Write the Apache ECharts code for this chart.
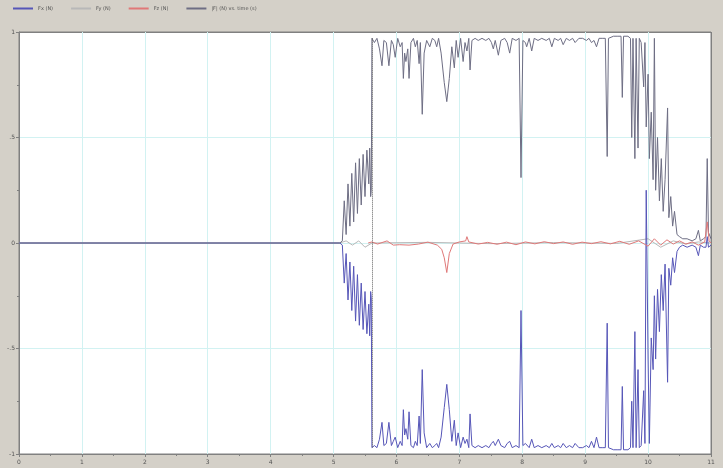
<!DOCTYPE html>
<html>
<head>
<meta charset="utf-8">
<script src="https://cdn.jsdelivr.net/npm/echarts@6/dist/echarts.min.js"></script>
<style>
html,body{margin:0;padding:0;background:#d4d0c8;}
#c{width:723px;height:468px;}
</style>
</head>
<body>
<div id="c"></div>
<script>
// ---- data (time in s, force in N) ----
var seriesNames = ['Fx (N)', 'Fy (N)', 'Fz (N)', '|F| (N) vs. time (s)'];
var xTicks = [0,1,2,3,4,5,6,7,8,9,10,11];

var time = [
 0, 5.10, 5.14, 5.17, 5.20, 5.23, 5.26, 5.29, 5.32, 5.35,
 5.38, 5.41, 5.44, 5.47, 5.50, 5.53, 5.56, 5.575, 5.59, 5.60,
 5.61, 5.65, 5.69, 5.73, 5.77, 5.80, 5.84, 5.88, 5.92, 5.95,
 5.98, 6.02, 6.06, 6.09, 6.11, 6.13, 6.15, 6.18, 6.20, 6.23,
 6.27, 6.30, 6.33, 6.36, 6.38, 6.41, 6.44, 6.48, 6.53, 6.57,
 6.61, 6.64, 6.67, 6.71, 6.76, 6.80, 6.84, 6.88, 6.92, 6.95,
 6.98, 7.02, 7.06, 7.09, 7.12, 7.15, 7.17, 7.20, 7.25, 7.30,
 7.36, 7.42, 7.47, 7.51, 7.54, 7.57, 7.62, 7.66, 7.72, 7.76,
 7.80, 7.84, 7.90, 7.95, 7.98, 8.01, 8.05, 8.07, 8.11, 8.15,
 8.19, 8.25, 8.31, 8.38, 8.43, 8.47, 8.51, 8.57, 8.61, 8.65,
 8.70, 8.75, 8.80, 8.84, 8.90, 8.96, 9.02, 9.06, 9.10, 9.14,
 9.18, 9.22, 9.27, 9.32, 9.35, 9.37, 9.45, 9.52, 9.57, 9.59,
 9.61, 9.68, 9.72, 9.74, 9.76, 9.79, 9.81, 9.84, 9.86, 9.89,
 9.93, 9.95, 9.97, 10.00, 10.02, 10.05, 10.08, 10.10, 10.12, 10.15,
 10.18, 10.21, 10.24, 10.27, 10.31, 10.33, 10.36, 10.39, 10.42, 10.46,
 10.50, 10.55, 10.62, 10.70, 10.76, 10.80, 10.83, 10.88, 10.92, 10.94,
 10.96, 11.00
];

var fmag = [
 0, 0, 0.01, 0.20, 0.04, 0.28, 0.08, 0.33, 0.10, 0.38,
 0.14, 0.40, 0.18, 0.42, 0.22, 0.44, 0.28, 0.45, 0.22, 0.25,
 0.97, 0.95, 0.97, 0.92, 0.84, 0.96, 0.95, 0.84, 0.96, 0.94,
 0.88, 0.97, 0.93, 0.95, 0.78, 0.90, 0.86, 0.92, 0.78, 0.95,
 0.97, 0.93, 0.96, 0.85, 0.95, 0.61, 0.90, 0.96, 0.93, 0.97,
 0.96, 0.93, 0.97, 0.90, 0.76, 0.67, 0.78, 0.93, 0.83, 0.96,
 0.88, 0.97, 0.86, 0.95, 0.91, 0.97, 0.82, 0.96, 0.97, 0.96,
 0.97, 0.96, 0.97, 0.95, 0.92, 0.96, 0.89, 0.96, 0.97, 0.95,
 0.90, 0.97, 0.96, 0.97, 0.31, 0.96, 0.95, 0.93, 0.97, 0.91,
 0.97, 0.96, 0.97, 0.96, 0.97, 0.93, 0.97, 0.96, 0.97, 0.94,
 0.97, 0.96, 0.97, 0.95, 0.97, 0.97, 0.96, 0.97, 0.95, 0.96,
 0.93, 0.97, 0.97, 0.97, 0.41, 0.97, 0.98, 0.98, 0.98, 0.69,
 0.98, 0.98, 0.97, 0.50, 0.97, 0.40, 0.97, 0.45, 0.97, 0.95,
 0.74, 0.95, 0.55, 0.80, 0.40, 0.62, 0.30, 0.97, 0.25, 0.50,
 0.20, 0.40, 0.15, 0.30, 0.64, 0.12, 0.22, 0.08, 0.15, 0.04,
 0.03, 0.02, 0.02, 0.01, 0.02, 0.06, 0.01, 0.02, 0.03, 0.40,
 0.05, 0.02
];

var fx = [
 0, 0, -0.01, -0.19, -0.05, -0.27, -0.09, -0.32, -0.11, -0.37,
 -0.15, -0.39, -0.19, -0.41, -0.23, -0.43, -0.29, -0.44, -0.23, -0.26,
 -0.97, -0.96, -0.97, -0.93, -0.85, -0.96, -0.95, -0.85, -0.96, -0.94,
 -0.92, -0.97, -0.94, -0.96, -0.79, -0.91, -0.88, -0.93, -0.80, -0.96,
 -0.97, -0.94, -0.96, -0.82, -0.95, -0.60, -0.90, -0.97, -0.95, -0.97,
 -0.96, -0.95, -0.97, -0.92, -0.78, -0.67, -0.79, -0.94, -0.84, -0.96,
 -0.90, -0.97, -0.92, -0.95, -0.93, -0.97, -0.81, -0.96, -0.97, -0.96,
 -0.97, -0.96, -0.97, -0.95, -0.94, -0.96, -0.93, -0.96, -0.97, -0.95,
 -0.94, -0.97, -0.96, -0.97, -0.32, -0.96, -0.95, -0.95, -0.97, -0.93,
 -0.97, -0.96, -0.97, -0.96, -0.97, -0.95, -0.97, -0.96, -0.97, -0.95,
 -0.97, -0.96, -0.97, -0.95, -0.97, -0.97, -0.96, -0.97, -0.94, -0.97,
 -0.92, -0.97, -0.97, -0.97, -0.38, -0.97, -0.98, -0.98, -0.98, -0.68,
 -0.98, -0.98, -0.97, -0.75, -0.97, -0.42, -0.97, -0.60, -0.97, -0.96,
 -0.70, -0.95, 0.25, -0.55, -0.95, -0.45, -0.60, -0.25, -0.55, -0.22,
 -0.42, -0.15, -0.32, -0.10, -0.66, -0.12, -0.20, -0.07, -0.14, -0.04,
 -0.02, -0.01, -0.02, -0.01, -0.02, -0.06, -0.01, -0.02, -0.02, 0.03,
 -0.02, -0.01
];

var fyTime = [0, 5.10, 5.20, 5.30, 5.40, 5.50, 5.61, 6.5, 7.5, 8.5, 9.5, 10.0, 10.2, 10.4, 10.6, 10.8, 11.0];
var fy     = [0, 0, 0.01, -0.01, 0.01, -0.02, 0, 0.003, -0.003, 0.002, -0.002, 0.02, -0.02, 0.01, -0.005, 0.005, 0];

var fzTime = [
 5.55, 5.61, 5.70, 5.85, 5.95, 6.05, 6.20,
 6.35, 6.50, 6.65, 6.72, 6.76, 6.80, 6.84, 6.90, 7.00, 7.10,
 7.12, 7.15, 7.30, 7.45, 7.60, 7.75, 7.90, 8.05, 8.20, 8.35,
 8.50, 8.65, 8.80, 8.95, 9.10, 9.25, 9.40, 9.55, 9.70, 9.85,
 10.00, 10.10, 10.20, 10.30, 10.40, 10.50, 10.60, 10.70, 10.80, 10.90,
 10.94, 10.97, 11.00
];
var fz = [
 0, 0.005, -0.005, 0.01, -0.01, -0.008, -0.01,
 -0.005, 0.004, -0.01, -0.03, -0.07, -0.14, -0.05, -0.005, 0.005, 0.01,
 0.03, 0.005, -0.005, 0.003, -0.006, 0.004, -0.008, 0.005, -0.004, 0.006,
 -0.003, 0.005, -0.006, 0.004, -0.003, 0.006, -0.004, 0.008, -0.006, 0.01,
 -0.015, 0.02, -0.01, 0.015, -0.005, 0.01, -0.005, 0.005, -0.01, 0.005,
 0.10, 0.01, 0.0
];

var contactTime = 5.61;

function zip(t, v) {
  var out = [];
  for (var i = 0; i < Math.min(t.length, v.length); i++) out.push([t[i], v[i]]);
  return out;
}

var colors = ['#5656b8', '#b8b8b8', '#e07878', '#6e6e84'];

var chart = echarts.init(document.getElementById('c'), null, {renderer: 'canvas'});
var lblFont = {fontSize: 6, color: '#555', fontFamily: 'DejaVu Sans'};

function lineSeries(i, data, z) {
  return {
    name: seriesNames[i], type: 'line', showSymbol: false, symbol: 'none',
    itemStyle: {color: colors[i]},
    lineStyle: {width: 1, color: colors[i]}, data: data, z: z
  };
}

var sMag = lineSeries(3, zip(time, fmag), 3);
sMag.markLine = {
  silent: true, symbol: 'none', label: {show: false},
  lineStyle: {type: 'dotted', color: '#606060', width: 1},
  data: [[{coord: [contactTime, 0.97]}, {coord: [contactTime, -0.97]}]]
};

var gridGrey = '#808080', gridCyan = '#d2f2f2';
var xSplitColors = xTicks.map(function(v, i){ return (i === 0 || i === xTicks.length - 1) ? gridGrey : gridCyan; });
var ySplitColors = [gridGrey, gridCyan, gridCyan, gridCyan, gridGrey];

chart.setOption({
  animation: false,
  backgroundColor: '#d4d0c8',
  color: colors,
  legend: {
    left: 8, top: 1,
    itemWidth: 20, itemHeight: 2, itemGap: 18,
    icon: 'rect',
    textStyle: {fontSize: 5, color: '#555', fontFamily: 'DejaVu Sans'},
    data: seriesNames.map(function(n, i){ return {name: n, itemStyle: {color: colors[i]}}; })
  },
  grid: {
    left: 19, right: 12, top: 32, bottom: 14,
    show: true, backgroundColor: '#ffffff', borderColor: gridGrey, borderWidth: 1
  },
  xAxis: {
    type: 'value', min: 0, max: 11, interval: 1,
    axisLine: {show: true, onZero: false, lineStyle: {color: gridGrey}},
    axisTick: {show: true, length: 3, lineStyle: {color: gridGrey}},
    minorTick: {show: true, splitNumber: 2, length: 2, lineStyle: {color: gridGrey}},
    axisLabel: Object.assign({margin: 5, formatter: function(v){ return xTicks.indexOf(v) >= 0 ? String(v) : ''; }}, lblFont),
    splitLine: {show: true, lineStyle: {color: xSplitColors, width: 1}}
  },
  yAxis: {
    type: 'value', min: -1, max: 1, interval: 0.5,
    axisLine: {show: true, onZero: false, lineStyle: {color: gridGrey}},
    axisTick: {show: true, length: 3, lineStyle: {color: gridGrey}},
    minorTick: {show: true, splitNumber: 2, length: 2, lineStyle: {color: gridGrey}},
    axisLabel: Object.assign({margin: 4, formatter: function(v){
      if (v === 0.5) return '.5';
      if (v === -0.5) return '-.5';
      return String(v);
    }}, lblFont),
    splitLine: {show: true, lineStyle: {color: ySplitColors, width: 1}}
  },
  series: [
    lineSeries(0, zip(time, fx), 2),
    lineSeries(1, zip(fyTime, fy), 1),
    lineSeries(2, zip(fzTime, fz), 4),
    sMag
  ]
});
</script>
</body>
</html>
